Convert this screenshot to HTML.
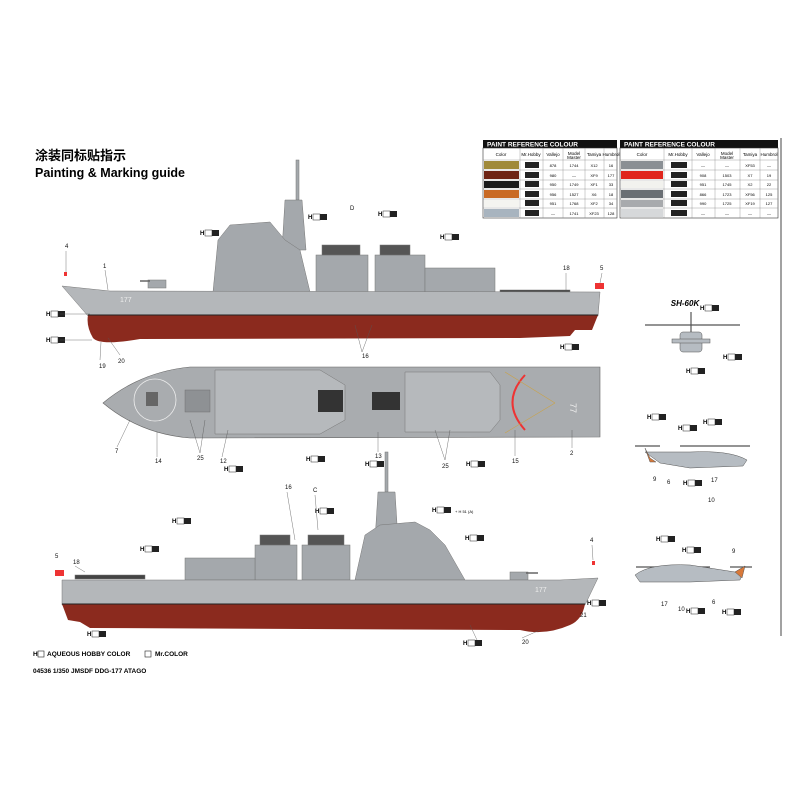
<!DOCTYPE html>
<html><head><meta charset="utf-8"><style>
html,body{margin:0;padding:0;background:#fff;}
svg{display:block}
text{font-family:"Liberation Sans","Noto Sans CJK SC",sans-serif}
</style></head><body>
<svg width="800" height="800" viewBox="0 0 800 800" xmlns="http://www.w3.org/2000/svg">
<defs>
<g id="ch">
<text x="0" y="0" font-size="6" font-weight="bold">H</text><rect x="5" y="-5" width="7" height="6" fill="#fff" stroke="#222" stroke-width="0.5"/><rect x="12" y="-5" width="7" height="6" fill="#222"/>
</g>
</defs>
<rect width="800" height="800" fill="#fff"/>
<line x1="781" y1="138" x2="781" y2="636" stroke="#444" stroke-width="1"/>

<text x="35" y="160" font-size="13" font-weight="bold" font-family="Noto Sans CJK SC,sans-serif">涂装同标贴指示</text>
<text x="35" y="177" font-size="12.5" font-weight="bold">Painting &amp; Marking guide</text>

<!-- Table 1 -->
<g font-size="4.5" text-anchor="middle">
<rect x="483" y="140" width="134" height="8" fill="#111"/>
<text x="487" y="146.5" font-size="6.5" fill="#fff" font-weight="bold" text-anchor="start">PAINT  REFERENCE COLOUR</text>
<rect x="483" y="148" width="134" height="70" fill="#fff" stroke="#333" stroke-width="0.6"/>
<g stroke="#888" stroke-width="0.4">
<line x1="483" y1="160" x2="617" y2="160"/><line x1="483" y1="170" x2="617" y2="170"/><line x1="483" y1="180" x2="617" y2="180"/><line x1="483" y1="189" x2="617" y2="189"/><line x1="483" y1="199" x2="617" y2="199"/><line x1="483" y1="208" x2="617" y2="208"/>
<line x1="520" y1="148" x2="520" y2="218"/><line x1="543" y1="148" x2="543" y2="218"/><line x1="563" y1="148" x2="563" y2="218"/><line x1="585" y1="148" x2="585" y2="218"/><line x1="604" y1="148" x2="604" y2="218"/>
</g>
<text x="501" y="156">Color</text><text x="531" y="156">Mr.Hobby</text><text x="553" y="156">Vallejo</text><text x="574" y="155">Model</text><text x="574" y="159">Master</text><text x="594" y="156">Tamiya</text><text x="611" y="156">Humbrol</text>
<rect x="484" y="161" width="35" height="8" fill="#a08a3a"/>
<rect x="484" y="171" width="35" height="8" fill="#6e2414"/>
<rect x="484" y="181" width="35" height="7" fill="#1a1a1a"/>
<rect x="484" y="190" width="35" height="8" fill="#c96a25"/>
<rect x="484" y="200" width="35" height="7" fill="#f4f4f0"/>
<rect x="484" y="209" width="35" height="8" fill="#a8b4bf"/>
<g font-size="4">
<text x="553" y="167">878</text><text x="574" y="167">1744</text><text x="594" y="167">X12</text><text x="611" y="167">16</text>
<text x="553" y="177">980</text><text x="574" y="177">—</text><text x="594" y="177">XF9</text><text x="611" y="177">177</text>
<text x="553" y="186">950</text><text x="574" y="186">1749</text><text x="594" y="186">XF1</text><text x="611" y="186">33</text>
<text x="553" y="196">956</text><text x="574" y="196">1527</text><text x="594" y="196">X6</text><text x="611" y="196">18</text>
<text x="553" y="205">951</text><text x="574" y="205">1768</text><text x="594" y="205">XF2</text><text x="611" y="205">34</text>
<text x="553" y="215">—</text><text x="574" y="215">1741</text><text x="594" y="215">XF23</text><text x="611" y="215">128</text>
</g>
<g fill="#222"><rect x="525" y="162" width="14" height="6"/><rect x="525" y="172" width="14" height="6"/><rect x="525" y="181" width="14" height="6"/><rect x="525" y="191" width="14" height="6"/><rect x="525" y="200" width="14" height="6"/><rect x="525" y="210" width="14" height="6"/></g>
</g>

<!-- Table 2 -->
<g font-size="4.5" text-anchor="middle">
<rect x="620" y="140" width="158" height="8" fill="#111"/>
<text x="624" y="146.5" font-size="6.5" fill="#fff" font-weight="bold" text-anchor="start">PAINT  REFERENCE COLOUR</text>
<rect x="620" y="148" width="158" height="70" fill="#fff" stroke="#333" stroke-width="0.6"/>
<g stroke="#888" stroke-width="0.4">
<line x1="620" y1="160" x2="778" y2="160"/><line x1="620" y1="170" x2="778" y2="170"/><line x1="620" y1="180" x2="778" y2="180"/><line x1="620" y1="189" x2="778" y2="189"/><line x1="620" y1="199" x2="778" y2="199"/><line x1="620" y1="208" x2="778" y2="208"/>
<line x1="664" y1="148" x2="664" y2="218"/><line x1="692" y1="148" x2="692" y2="218"/><line x1="715" y1="148" x2="715" y2="218"/><line x1="740" y1="148" x2="740" y2="218"/><line x1="760" y1="148" x2="760" y2="218"/>
</g>
<text x="642" y="156">Color</text><text x="678" y="156">Mr.Hobby</text><text x="703" y="156">Vallejo</text><text x="727" y="155">Model</text><text x="727" y="159">Master</text><text x="750" y="156">Tamiya</text><text x="769" y="156">Humbrol</text>
<rect x="621" y="161" width="42" height="8" fill="#8a8f94"/>
<rect x="621" y="171" width="42" height="8" fill="#e0251c"/>
<rect x="621" y="181" width="42" height="7" fill="#f2f2ee"/>
<rect x="621" y="190" width="42" height="8" fill="#6a6f74"/>
<rect x="621" y="200" width="42" height="7" fill="#a8aaad"/>
<rect x="621" y="209" width="42" height="8" fill="#d6d8da"/>
<g font-size="4">
<text x="703" y="167">—</text><text x="727" y="167">—</text><text x="750" y="167">XF53</text><text x="769" y="167">—</text>
<text x="703" y="177">908</text><text x="727" y="177">1503</text><text x="750" y="177">X7</text><text x="769" y="177">19</text>
<text x="703" y="186">951</text><text x="727" y="186">1745</text><text x="750" y="186">X2</text><text x="769" y="186">22</text>
<text x="703" y="196">866</text><text x="727" y="196">1723</text><text x="750" y="196">XF56</text><text x="769" y="196">125</text>
<text x="703" y="205">990</text><text x="727" y="205">1725</text><text x="750" y="205">XF19</text><text x="769" y="205">127</text>
<text x="703" y="215">—</text><text x="727" y="215">—</text><text x="750" y="215">—</text><text x="769" y="215">—</text>
</g>
<g fill="#222"><rect x="671" y="162" width="16" height="6"/><rect x="671" y="172" width="16" height="6"/><rect x="671" y="181" width="16" height="6"/><rect x="671" y="191" width="16" height="6"/><rect x="671" y="200" width="16" height="6"/><rect x="671" y="210" width="16" height="6"/></g>
</g>

<!-- SHIP 1 side view -->
<g>
<g fill="#a4a8ac" stroke="#777" stroke-width="0.5">
<rect x="296" y="160" width="3" height="40"/>
<polygon points="285,200 302,200 306,250 282,250"/>
<polygon points="218,240 230,225 270,222 285,240 300,250 310,292 213,292"/>
<rect x="316" y="255" width="52" height="37"/>
<rect x="322" y="245" width="38" height="10" fill="#555"/>
<rect x="375" y="255" width="50" height="37"/>
<rect x="380" y="245" width="30" height="10" fill="#555"/>
<rect x="425" y="268" width="70" height="24"/>
<rect x="500" y="290" width="70" height="4" fill="#444"/>
<rect x="148" y="280" width="18" height="8"/>
<line x1="140" y1="281" x2="150" y2="281" stroke="#666" stroke-width="1.5"/>
</g>
<path d="M62,286 L110,291 L600,292 L598,316 L88,316 Z" fill="#b4b7ba" stroke="#777" stroke-width="0.5"/>
<path d="M88,315 L598,315 L592,330 L575,330 L570,336 L520,338 L140,339 Q100,346 93,338 Q86,326 88,315 Z" fill="#8b2a1e"/>
<line x1="88" y1="315" x2="598" y2="315" stroke="#222" stroke-width="1"/>
<text x="120" y="302" font-size="7" fill="#eee">177</text>
<rect x="595" y="283" width="9" height="6" fill="#e33"/>
<rect x="64" y="272" width="3" height="4" fill="#e33"/>
</g>

<!-- TOP VIEW -->
<g>
<path d="M103,403 Q140,372 190,367 L600,367 L600,437 L190,438 Q140,434 103,403 Z" fill="#a9acaf" stroke="#666" stroke-width="0.6"/>
<circle cx="155" cy="400" r="21" fill="none" stroke="#eee" stroke-width="0.8"/>
<rect x="146" y="392" width="12" height="14" fill="#666"/>
<rect x="185" y="390" width="25" height="22" fill="#8e9194" stroke="#666" stroke-width="0.4"/>
<polygon points="215,370 320,370 345,385 345,420 320,434 215,434" fill="#b6b9bc" stroke="#777" stroke-width="0.5"/>
<rect x="318" y="390" width="25" height="22" fill="#333"/>
<rect x="372" y="392" width="28" height="18" fill="#333"/>
<polygon points="405,372 490,372 500,385 500,420 490,432 405,432" fill="#b6b9bc" stroke="#777" stroke-width="0.5"/>
<path d="M525,375 Q500,402 525,430" fill="none" stroke="#e33" stroke-width="2"/>
<line x1="505" y1="372" x2="555" y2="403" stroke="#c9a24a" stroke-width="0.6"/>
<line x1="505" y1="433" x2="555" y2="403" stroke="#c9a24a" stroke-width="0.6"/>
<text x="575" y="408" font-size="9" fill="#eee" transform="rotate(90 575 403)">77</text>
</g>

<!-- SHIP 3 side view (mirrored) -->
<g>
<g fill="#a4a8ac" stroke="#777" stroke-width="0.5">
<rect x="385" y="452" width="3" height="40"/>
<polygon points="378,492 395,492 398,540 375,540"/>
<polygon points="355,580 365,535 380,525 415,522 430,530 445,545 465,580"/>
<rect x="302" y="545" width="48" height="35"/>
<rect x="308" y="535" width="36" height="10" fill="#555"/>
<rect x="255" y="545" width="42" height="35"/>
<rect x="260" y="535" width="30" height="10" fill="#555"/>
<rect x="185" y="558" width="70" height="22"/>
<rect x="75" y="575" width="70" height="4" fill="#444"/>
<rect x="510" y="572" width="18" height="8"/>
<line x1="526" y1="573" x2="538" y2="573" stroke="#666" stroke-width="1.5"/>
</g>
<path d="M62,580 L560,580 L598,578 L585,605 L62,605 Z" fill="#b4b7ba" stroke="#777" stroke-width="0.5"/>
<path d="M62,604 L585,604 Q582,620 570,625 Q545,636 520,630 L90,628 L80,622 L68,620 Z" fill="#8b2a1e"/>
<line x1="62" y1="604" x2="585" y2="604" stroke="#222" stroke-width="1"/>
<text x="535" y="592" font-size="7" fill="#eee">177</text>
<rect x="55" y="570" width="9" height="6" fill="#e33"/>
<rect x="592" y="561" width="3" height="4" fill="#e33"/>
</g>

<!-- HELICOPTERS -->
<text x="685" y="306" font-size="8" font-weight="bold" font-style="italic" text-anchor="middle">SH-60K</text>
<g fill="#b6bcc2" stroke="#555" stroke-width="0.5">
<line x1="645" y1="325" x2="740" y2="325" stroke="#555" stroke-width="1.2"/>
<rect x="680" y="332" width="22" height="20" rx="3"/>
<rect x="672" y="339" width="38" height="4"/>
<line x1="691" y1="312" x2="691" y2="332" stroke="#555" stroke-width="1.2"/>

<line x1="635" y1="446" x2="660" y2="446" stroke="#555" stroke-width="1.2"/>
<line x1="680" y1="446" x2="750" y2="446" stroke="#555" stroke-width="1.2"/>
<path d="M645,452 L690,452 Q730,450 747,460 L743,466 L690,468 L660,463 Z"/>
<path d="M645,448 L650,458 L656,462 L650,462 Z" fill="#d8793a"/>

<line x1="636" y1="567" x2="710" y2="567" stroke="#555" stroke-width="1.2"/>
<line x1="730" y1="567" x2="752" y2="567" stroke="#555" stroke-width="1.2"/>
<path d="M635,575 Q650,563 690,565 L735,572 L745,566 L740,580 L690,582 L640,582 Z"/>
<path d="M735,572 L745,566 L742,578 Z" fill="#d8793a"/>
</g>

<g font-size="6" fill="#111">
<text x="65" y="248">4</text><text x="103" y="268">1</text><text x="350" y="210">D</text><text x="563" y="270">18</text><text x="600" y="270">5</text>
<text x="99" y="368">19</text><text x="118" y="363">20</text><text x="362" y="358">16</text>
<text x="115" y="453">7</text><text x="155" y="463">14</text><text x="197" y="460">25</text><text x="220" y="463">12</text><text x="375" y="458">13</text><text x="442" y="468">25</text><text x="512" y="463">15</text><text x="570" y="455">2</text>
<text x="285" y="489">16</text><text x="313" y="492">C</text><text x="55" y="558">5</text><text x="73" y="564">18</text><text x="590" y="542">4</text><text x="580" y="617">21</text><text x="522" y="644">20</text>
<text x="653" y="481">9</text><text x="667" y="484">6</text><text x="711" y="482">17</text><text x="708" y="502">10</text>
<text x="661" y="606">17</text><text x="678" y="611">10</text><text x="712" y="604">6</text><text x="732" y="553">9</text>
</g>
<g>
<use href="#ch" x="200" y="235"/><use href="#ch" x="308" y="219"/><use href="#ch" x="378" y="216"/><use href="#ch" x="440" y="239"/>
<use href="#ch" x="46" y="316"/><use href="#ch" x="46" y="342"/><use href="#ch" x="560" y="349"/>
<use href="#ch" x="224" y="471"/><use href="#ch" x="306" y="461"/><use href="#ch" x="365" y="466"/><use href="#ch" x="466" y="466"/>
<use href="#ch" x="172" y="523"/><use href="#ch" x="315" y="513"/><use href="#ch" x="432" y="512"/><use href="#ch" x="465" y="540"/><use href="#ch" x="140" y="551"/>
<use href="#ch" x="87" y="636"/><use href="#ch" x="587" y="605"/><use href="#ch" x="463" y="645"/>
<use href="#ch" x="700" y="310"/><use href="#ch" x="723" y="359"/><use href="#ch" x="686" y="373"/>
<use href="#ch" x="647" y="419"/><use href="#ch" x="678" y="430"/><use href="#ch" x="703" y="424"/><use href="#ch" x="683" y="485"/>
<use href="#ch" x="656" y="541"/><use href="#ch" x="682" y="552"/><use href="#ch" x="686" y="613"/><use href="#ch" x="722" y="614"/>
</g>
<text x="455" y="513" font-size="4">+ H 51 (A)</text>
<g stroke="#555" stroke-width="0.4" fill="none">
<line x1="66" y1="251" x2="66" y2="272"/><line x1="105" y1="270" x2="108" y2="290"/><line x1="60" y1="314" x2="90" y2="314"/><line x1="60" y1="340" x2="92" y2="340"/>
<line x1="100" y1="360" x2="101" y2="342"/><line x1="120" y1="355" x2="108" y2="338"/><line x1="362" y1="352" x2="355" y2="325"/><line x1="362" y1="352" x2="372" y2="325"/>
<line x1="566" y1="273" x2="566" y2="290"/><line x1="602" y1="273" x2="600" y2="283"/>
<line x1="117" y1="447" x2="130" y2="420"/><line x1="157" y1="457" x2="157" y2="432"/><line x1="200" y1="453" x2="190" y2="420"/><line x1="200" y1="453" x2="205" y2="420"/>
<line x1="222" y1="457" x2="228" y2="430"/><line x1="378" y1="452" x2="378" y2="432"/><line x1="445" y1="460" x2="435" y2="430"/><line x1="445" y1="460" x2="450" y2="430"/><line x1="515" y1="456" x2="515" y2="430"/><line x1="572" y1="448" x2="572" y2="430"/>
<line x1="287" y1="492" x2="295" y2="540"/><line x1="315" y1="495" x2="318" y2="530"/><line x1="592" y1="545" x2="593" y2="560"/><line x1="75" y1="566" x2="85" y2="572"/>
<line x1="477" y1="640" x2="470" y2="625"/><line x1="522" y1="638" x2="540" y2="630"/>
</g>

<g font-size="6.5" font-weight="bold">
<text x="33" y="656">H</text><rect x="38" y="651" width="6" height="6" fill="#fff" stroke="#222" stroke-width="0.6"/>
<text x="47" y="656">AQUEOUS HOBBY COLOR</text>
<rect x="145" y="651" width="6" height="6" fill="#fff" stroke="#222" stroke-width="0.6"/>
<text x="155" y="656">Mr.COLOR</text>
<text x="33" y="673">04536   1/350  JMSDF DDG-177 ATAGO</text>
</g>
</svg>
</body></html>
